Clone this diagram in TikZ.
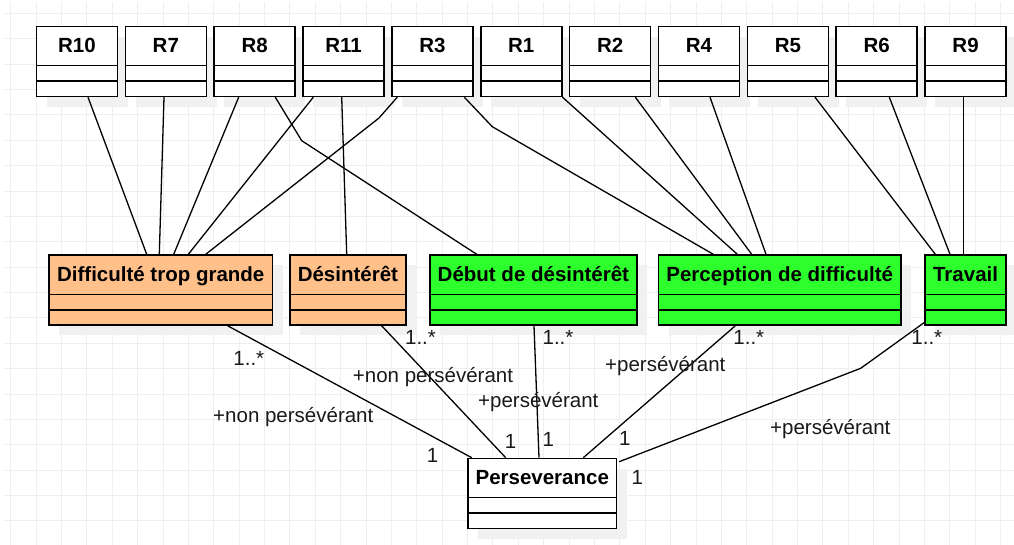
\documentclass[tikz,border=0pt]{standalone}
\usepackage{fontspec}
\setmainfont{Liberation Sans}
\definecolor{orangefill}{HTML}{FFC08A}
\definecolor{greenfill}{HTML}{2CFF2C}
\definecolor{shadowgray}{HTML}{F1F1F1}
\definecolor{gridgray}{HTML}{EFEFEF}
\tikzset{
  classbox/.style={draw=black, line width=1.5pt, rectangle, inner sep=0pt, anchor=north west, minimum height=70pt},
  classtitle/.style={font=\bfseries\fontsize{20.5}{24}\selectfont, inner sep=0pt, anchor=base},
  sepline/.style={line width=1.5pt, black},
  conn/.style={line width=1.3pt, black},
  lab/.style={font=\fontsize{20.5}{24}\selectfont, inner sep=0pt, anchor=base, text=black!90},
  gridline/.style={draw=gridgray, line width=0.9pt},
}
\newcommand\umlclass[6]{%
  \fill[shadowgray] ({#2+11},{#3+11}) rectangle ++(#4,70);
  \node[classbox, fill=#5, minimum width=#4pt] (#1) at (#2,#3) {};
  \node[classtitle] (#1t) at ([yshift=-26.7pt]#1.north) {#6};
  \draw[sepline] ([yshift=-40pt]#1.north west) -- ([yshift=-40pt]#1.north east);
  \draw[sepline] ([yshift=-55.5pt]#1.north west) -- ([yshift=-55.5pt]#1.north east);
}
\begin{document}
\begin{tikzpicture}[x=1pt,y=-1pt]
\useasboundingbox (0,0) rectangle (1014,545);
\fill[white] (0,0) rectangle (1014,545);
% grid
\foreach \i in {0,...,39} \draw[gridline] ({10.7+25.38*\i},2) -- ({10.7+25.38*\i},545);
\foreach \j in {0,...,21} \draw[gridline] (4,{13.3+25.38*\j}) -- (1014,{13.3+25.38*\j});
% top classes
\umlclass{R10}{35.7}{25.7}{81}{white}{R10}
\umlclass{R7}{124.6}{25.7}{81}{white}{R7}
\umlclass{R8}{213.4}{25.7}{81}{white}{R8}
\umlclass{R11}{302.3}{25.7}{81}{white}{R11}
\umlclass{R3}{391.1}{25.7}{81}{white}{R3}
\umlclass{R1}{480.0}{25.7}{81}{white}{R1}
\umlclass{R2}{568.9}{25.7}{81}{white}{R2}
\umlclass{R4}{657.7}{25.7}{81}{white}{R4}
\umlclass{R5}{746.6}{25.7}{81}{white}{R5}
\umlclass{R6}{835.4}{25.7}{81}{white}{R6}
\umlclass{R9}{924.3}{25.7}{81}{white}{R9}
% middle classes
\umlclass{Diff}{48.3}{254.3}{223.4}{orangefill}{Difficulté trop grande}
\umlclass{Des}{289.3}{254.3}{115.7}{orangefill}{Désintérêt}
\umlclass{Debut}{429}{254.3}{207.3}{greenfill}{Début de désintérêt}
\umlclass{Perc}{657.7}{254.3}{242.6}{greenfill}{Perception de difficulté}
\umlclass{Trav}{924.3}{254.3}{81}{greenfill}{Travail}
% bottom class
\umlclass{Pers}{467.3}{457.7}{148.4}{white}{Perseverance}
% connectors top -> middle
\draw[conn] ([xshift=52.3pt]R10.south west) -- ([xshift=98.4pt]Diff.north west);
\draw[conn] ([xshift=39.4pt]R7.south west) -- ([xshift=111pt]Diff.north west);
\draw[conn] ([xshift=25.3pt]R8.south west) -- ([xshift=125.4pt]Diff.north west);
\draw[conn] ([xshift=11pt]R11.south west) -- ([xshift=140pt]Diff.north west);
\draw[conn] ([xshift=6.2pt]R3.south west) -- (379,118) -- ([xshift=157.4pt]Diff.north west);
\draw[conn] ([xshift=61.9pt]R8.south west) -- (301.7,140.7) -- ([xshift=47.7pt]Debut.north west);
\draw[conn] ([xshift=39.4pt]R11.south west) -- ([xshift=57.4pt]Des.north west);
\draw[conn] ([xshift=73.2pt]R3.south west) -- (492.3,126.7) -- ([xshift=55.6pt]Perc.north west);
\draw[conn] (R1.south east) -- ([xshift=79.6pt]Perc.north west);
\draw[conn] ([xshift=66.4pt]R2.south west) -- ([xshift=94pt]Perc.north west);
\draw[conn] ([xshift=52.3pt]R4.south west) -- ([xshift=108.3pt]Perc.north west);
\draw[conn] ([xshift=68.4pt]R5.south west) -- ([xshift=11pt]Trav.north west);
\draw[conn] ([xshift=53.9pt]R6.south west) -- ([xshift=25.7pt]Trav.north west);
\draw[conn] ([xshift=39.4pt]R9.south west) -- ([xshift=39.4pt]Trav.north west);
% connectors middle -> Perseverance
\draw[conn] ([xshift=179.4pt]Diff.south west) -- ([xshift=4.4pt]Pers.north west);
\draw[conn] ([xshift=92.4pt]Des.south west) -- ([xshift=38.4pt]Pers.north west);
\draw[conn] ([xshift=105pt]Debut.south west) -- ([xshift=71.7pt]Pers.north west);
\draw[conn] ([xshift=77.6pt]Perc.south west) -- ([xshift=116pt]Pers.north west);
\draw[conn] ([yshift=3.3pt]Trav.south west) -- (860.7,368.3) -- ([yshift=-4pt,xshift=2pt]Pers.north east);
% labels
\node[lab] (l1a) at (248.8,365) {1..*};
\node[lab] (l1b) at (293.3,422.7) {+non persévérant};
\node[lab] (l1c) at (432.5,462.3) {1};
\node[lab] (l2a) at (420.5,344.3) {1..*};
\node[lab] (l2b) at (433,382.7) {+non persévérant};
\node[lab] (l2c) at (510.5,448.3) {1};
\node[lab] (l3a) at (558,344.3) {1..*};
\node[lab] (l3b) at (538.3,407.7) {+persévérant};
\node[lab] (l3c) at (548.3,446.7) {1};
\node[lab] (l4a) at (748.8,344.3) {1..*};
\node[lab] (l4b) at (665.3,371) {+persévérant};
\node[lab] (l4c) at (624.7,445) {1};
\node[lab] (l5a) at (926.8,344.3) {1..*};
\node[lab] (l5b) at (830.3,434.3) {+persévérant};
\node[lab] (l5c) at (637.2,484) {1};
\end{tikzpicture}
\end{document}
